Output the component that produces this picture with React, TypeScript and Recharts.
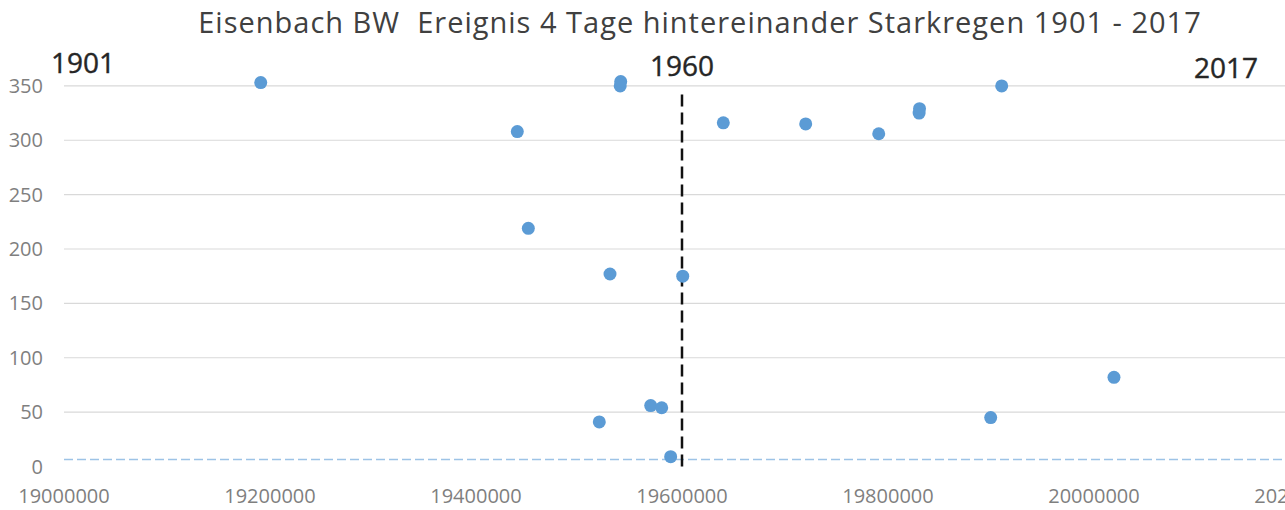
import React from 'react';
import { ScatterChart, Scatter, XAxis, YAxis, CartesianGrid, ReferenceLine } from 'recharts';

const dates = [
  19191000, 19540000, 19540500, 19440100, 19450800, 19530100, 19600700,
  19519700, 19569600, 19580300, 19589000, 19640100, 19720100, 19791000,
  19830200, 19830600, 19910400, 19899700, 20019400,
];
const values = [
  353, 350, 354, 308, 219, 177, 175,
  41, 56, 54, 9, 316, 315, 306,
  325, 329, 350, 45, 82,
];
const xTicks = [19000000, 19200000, 19400000, 19600000, 19800000, 20000000, 20200000];
const yTicks = [0, 50, 100, 150, 200, 250, 300, 350];
const gridValues = [50, 100, 150, 200, 250, 300, 350];
const markerYear = 19600000;
const markerTop = 344;
const baselineValue = 6.5;
const title = 'Eisenbach BW  Ereignis 4 Tage hintereinander Starkregen 1901 - 2017';
const yearLabels = ['1901', '1960', '2017'];

const data = dates.map((d, i) => ({ x: d, y: values[i] }));

const Dot = (props: any) => (
  <circle cx={props.cx} cy={props.cy} r={6.5} fill="#5B9BD5" />
);

const FONT = '"Open Sans", sans-serif';

export default function App() {
  return (
    <div style={{ position: 'absolute', left: 0, top: 0, width: 1285, height: 510, overflow: 'hidden', background: '#fff' }}>
      <ScatterChart
        width={1310}
        height={510}
        margin={{ top: 75, right: 10, bottom: 13.5, left: 0 }}
      >
        <CartesianGrid horizontal vertical={false} horizontalValues={gridValues} stroke="#d9d9d9" strokeWidth={1.2} />
        <XAxis
          type="number"
          dataKey="x"
          domain={[19000000, 20200000]}
          ticks={xTicks}
          tickLine={false}
          axisLine={false}
          tickMargin={16.5}
          height={30}
          interval={0}
          tick={{ fill: '#7f7f7f', fontSize: 20, fontFamily: FONT }}
        />
        <YAxis
          type="number"
          dataKey="y"
          domain={[0, 360]}
          ticks={yTicks}
          tickLine={false}
          axisLine={false}
          tickMargin={15}
          width={64}
          interval={0}
          tick={{ fill: '#7f7f7f', fontSize: 20, fontFamily: FONT }}
        />
        <ReferenceLine y={baselineValue} stroke="#9DC3E6" strokeWidth={1.6} strokeDasharray="9 4" />
        <ReferenceLine
          segment={[{ x: markerYear, y: 0 }, { x: markerYear, y: markerTop }]}
          stroke="#111"
          strokeWidth={2.5}
          strokeDasharray="12 6"
        />
        <Scatter data={data} shape={<Dot />} isAnimationActive={false} />
      </ScatterChart>
      <svg width={1285} height={510} style={{ position: 'absolute', left: 0, top: 0, pointerEvents: 'none' }}>
        <text x={700} y={33} textAnchor="middle" fontFamily={FONT} fontSize={29} letterSpacing={1} fill="#404040" style={{ whiteSpace: 'pre' }}>{title}</text>
        <text x={83} y={73} textAnchor="middle" fontFamily={FONT} fontSize={28} fill="#262626" stroke="#262626" strokeWidth={0.4}>{yearLabels[0]}</text>
        <text x={682} y={76} textAnchor="middle" fontFamily={FONT} fontSize={28} fill="#262626" stroke="#262626" strokeWidth={0.4}>{yearLabels[1]}</text>
        <text x={1226} y={78} textAnchor="middle" fontFamily={FONT} fontSize={28} fill="#262626" stroke="#262626" strokeWidth={0.4}>{yearLabels[2]}</text>
      </svg>
    </div>
  );
}
